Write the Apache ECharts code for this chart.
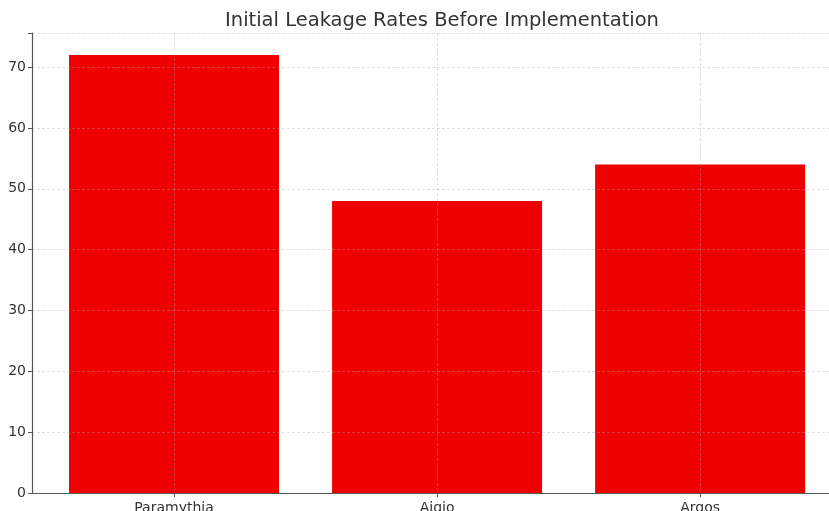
<!DOCTYPE html>
<html>
<head>
<meta charset="utf-8">
<script src="https://cdn.jsdelivr.net/npm/echarts@6/dist/echarts.min.js"></script>
<style>
  html, body { margin: 0; padding: 0; background: #fff; }
  #chart { width: 829px; height: 511px; }
</style>
</head>
<body>
<div id="chart"></div>
<script>
// Initial leakage rate per town
const towns = ['Paramythia', 'Aigio', 'Argos'];
const leakageRates = [72, 48, 54];
const yTicks = [0, 10, 20, 30, 40, 50, 60, 70];

const chart = echarts.init(document.getElementById('chart'), null, { renderer: 'canvas' });
const font = 'DejaVu Sans, sans-serif';
const positions = towns.map((_, i) => i);
const gridLine = { show: true, lineStyle: { color: 'rgba(170,170,170,0.45)', type: [3, 2], width: 0.8 } };

chart.setOption({
  animation: false,
  backgroundColor: '#ffffff',
  title: {
    text: 'Initial Leakage Rates Before Implementation',
    left: 437,
    top: 6,
    textAlign: 'center',
    textStyle: { fontFamily: font, fontSize: 19.5, fontWeight: 'normal', color: '#333333' }
  },
  grid: { left: 32, right: 0, top: 33, bottom: 18, containLabel: false, outerBoundsMode: 'none' },
  xAxis: {
    type: 'value',
    min: -0.54,
    max: 2.49,
    axisLine: { show: true, onZero: false, lineStyle: { color: '#555555', width: 1.2 } },
    axisTick: { show: true, customValues: positions, length: 4, lineStyle: { color: '#555555' } },
    axisLabel: {
      customValues: positions,
      formatter: v => towns[Math.round(v)],
      margin: 8,
      fontFamily: font, fontSize: 14, color: '#333333'
    },
    splitLine: gridLine
  },
  yAxis: {
    type: 'value',
    min: 0,
    max: 75.6,
    interval: 10,
    axisLine: { show: true, onZero: false, lineStyle: { color: '#555555', width: 1.2 } },
    axisTick: { show: true, length: 4, lineStyle: { color: '#555555' } },
    axisLabel: {
      customValues: yTicks,
      margin: 6,
      fontFamily: font, fontSize: 14, color: '#333333'
    },
    splitLine: gridLine
  },
  series: [{
    type: 'bar',
    z: -1,
    barWidth: 210,
    itemStyle: { color: '#ee0000' },
    data: towns.map((_, i) => [i, leakageRates[i]])
  }]
});
</script>
</body>
</html>
